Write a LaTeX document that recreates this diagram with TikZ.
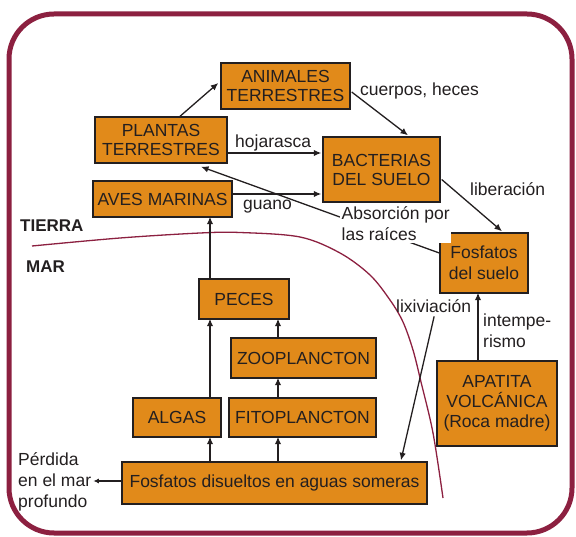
\documentclass[tikz,border=0pt]{standalone}
\usepackage{fontspec}
\setmainfont{Liberation Sans}
\usetikzlibrary{arrows.meta,calc}
\definecolor{boxfill}{RGB}{225,138,26}
\definecolor{framecol}{RGB}{140,32,64}
\definecolor{ink}{RGB}{35,31,32}
\begin{document}
\begin{tikzpicture}[x=1pt,y=-1pt,
  box/.style={draw=ink, fill=boxfill, line width=1.4pt, inner sep=0pt, align=center, text=ink, font=\fontsize{17.5}{19}\selectfont},
  lbl/.style={text=ink, inner sep=0pt, font=\fontsize{17.5}{21}\selectfont},
  arr/.style={draw=ink, line width=1.3pt, -{Latex[length=7.5pt,width=6.5pt]}},
  ln/.style={draw=ink, line width=1.1pt},
]
\useasboundingbox (0,0) rectangle (576,537);
% frame
\draw[framecol, line width=5pt, rounded corners=45pt] (9,14) rectangle (572,533);
% land/sea boundary
\draw[framecol, line width=1.3pt] plot[smooth, tension=0.55] coordinates {(32,246) (120,238) (200,233) (240,232.5) (300,237) (340,253) (370,275) (390,300) (403,322) (413,350) (421,382) (433,433) (443,498)};

% boxes
\node[box, minimum width=129pt, minimum height=46pt] (anim) at (285.5,86) {ANIMALES\\TERRESTRES};
\node[box, minimum width=132pt, minimum height=46pt] (plantas) at (161,140) {PLANTAS\\TERRESTRES};
\node[box, minimum width=117pt, minimum height=65pt] (bact) at (381.5,169.5) {BACTERIAS\\DEL SUELO};
\node[box, minimum width=139pt, minimum height=36pt] (aves) at (162.5,199) {AVES MARINAS};
\node[box, minimum width=88pt, minimum height=60pt, font=\fontsize{17.5}{21}\selectfont] (fsuelo) at (484,263) {Fosfatos\\del suelo};
\node[box, minimum width=90pt, minimum height=40pt] (peces) at (244,299) {PECES};
\node[box, minimum width=145pt, minimum height=40pt] (zoo) at (303.5,358) {ZOOPLANCTON};
\node[box, minimum width=88pt, minimum height=39pt] (algas) at (177,417.5) {ALGAS};
\node[box, minimum width=147pt, minimum height=39pt] (fito) at (302.5,417.5) {FITOPLANCTON};
\node[box, minimum width=120pt, minimum height=85pt, font=\fontsize{17.5}{20}\selectfont] (apat) at (497,403.5) {APATITA\\VOLCÁNICA\\(Roca madre)};
\node[box, minimum width=305pt, minimum height=42pt] (disu) at (274.5,483) {Fosfatos disueltos en aguas someras};

% labels
\node[lbl, anchor=base west] (cuerpos) at (360,96) {cuerpos, heces};
\node[lbl, anchor=base west] (hoja) at (235,148) {hojarasca};
\node[lbl, anchor=base west] (guano) at (243,210) {guano};
\node[lbl, anchor=base west] (liber) at (470,196) {liberación};
\node[lbl, anchor=base west] (lix) at (396,313) {lixiviación};
\node[lbl, anchor=west, align=left] (intem) at (483,331) {intempe-\\rismo};
\node[lbl, anchor=west, align=left, inner sep=2pt] (perdida) at (16,482) {Pérdida\\en el mar\\profundo};
\node[lbl, anchor=base west, font=\bfseries\fontsize{17}{20}\selectfont] (tierra) at (20,232) {TIERRA};
\node[lbl, anchor=base west, font=\bfseries\fontsize{17}{20}\selectfont] (mar) at (26,273) {MAR};

% connectors
\draw[arr] ($(plantas.north)+(19,0)$) -- ($(anim.west)+(-2,-3)$);
\draw[arr] ($(anim.east)+(1,6)$) -- ($(bact.north)+(26.5,-1)$);
\draw[arr] ($(plantas.east)+(0,13)$) -- ($(bact.west)+(-1,-16.5)$);
\draw[arr] ($(aves.east)+(0,-5)$) -- ($(bact.west)+(-1,24.5)$);
\draw[arr] ($(fsuelo.west)+(0,-10)$) -- ($(plantas.south)+(40,3)$);
\node[lbl, anchor=west, align=left, fill=white, inner sep=1.5pt] (absor) at (340,224) {Absorción por\\las raíces};
\draw[arr] ($(bact.east)+(1,10)$) -- ($(fsuelo.north)+(18,-1)$);
\draw[arr] ($(apat.north)+(-19,0)$) -- ($(fsuelo.south)+(-6,-1)$);
\draw[arr] ($(lix.south)+(0.5,3)$) -- ($(disu.north)+(126.5,-1)$);
\draw[arr] ($(peces.north)+(-34,0)$) -- ($(aves.south)+(47.5,-1)$);
\draw[arr] ($(algas.north)+(33,0)$) -- ($(peces.south)+(-34,-1)$);
\draw[arr] ($(fito.north)+(-24.5,0)$) -- ($(zoo.south)+(-25.5,-1)$);
\draw[arr] ($(zoo.north)+(-25.5,0)$) -- ($(peces.south)+(34,-1)$);
\draw[arr] ($(disu.north)+(-64.5,0)$) -- ($(algas.south)+(33,-1)$);
\draw[arr] ($(disu.north)+(3.5,0)$) -- ($(fito.south)+(-24.5,-1)$);
\draw[ln, -{Latex[length=5.5pt,width=5pt]}] ($(disu.west)+(0,-2)$) -- (perdida.east |- {$(disu.west)+(0,-2)$});
\end{tikzpicture}
\end{document}
